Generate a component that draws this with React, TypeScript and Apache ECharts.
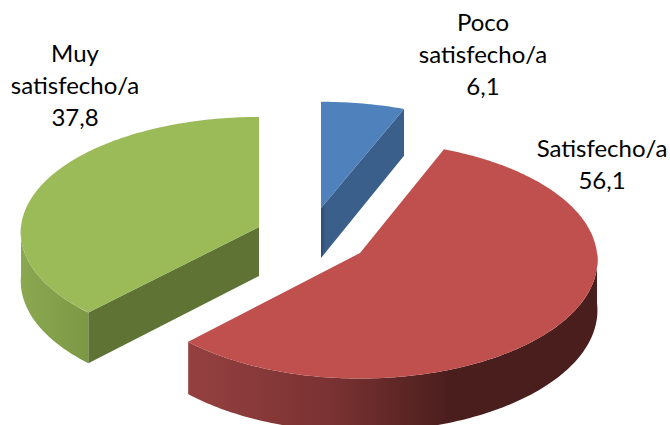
import React, { useEffect, useRef } from "react";
import * as echarts from "echarts";

const categories = ["Poco satisfecho/a", "Satisfecho/a", "Muy satisfecho/a"];
const values = [6.1, 56.1, 37.8];
const labelLines = [["Poco", "satisfecho/a", "6,1"], ["Satisfecho/a", "56,1"], ["Muy", "satisfecho/a", "37,8"]];
const labelBoxes = [
  { x: 483, y: 21 },
  { x: 602, y: 147 },
  { x: 75, y: 52 },
];
const topColors = ["#4f81bd", "#c0504d", "#9bbb59"];
const innerStops: [number, string][][] = [
  [[0, "#2f4e76"], [0.06, "#3a5f8b"], [1, "#3a5f8b"]],
  [[0, "#3a5f8b"], [1, "#3a5f8b"]],
  [[0, "#5f7334"], [1, "#5f7334"]],
];
const outerStops: [number, string][][] = [
  [[0, "#3a5f8b"], [1, "#3a5f8b"]],
  [[0, "#954040"], [0.35, "#7a3232"], [0.64, "#4a1e1d"], [1, "#4a1e1d"]],
  [[0, "#8aa850"], [1, "#7d9845"]],
];
// projection of each exploded slice: centre, radii, perspective, thickness
const geometry = [
  { cx: 321, cy: 208, R: 237, ry: 114, e: 0.073, depth: 50 },
  { cx: 360, cy: 253, R: 237, ry: 118, e: 0.06, depth: 50 },
  { cx: 259, cy: 227, R: 238, ry: 115, e: 0.045, depth: 49 },
];

const total = values.reduce((a, b) => a + b, 0);

function project(i: number, deg: number, down = false): number[] {
  const g = geometry[i];
  const t = (deg * Math.PI) / 180;
  const s = 1 / (1 + g.e * Math.cos(t));
  return [g.cx + g.R * Math.sin(t) * s, g.cy - g.ry * Math.cos(t) * s + (down ? g.depth * s : 0)];
}

function arc(i: number, a: number, b: number, down = false): number[][] {
  const pts: number[][] = [];
  const n = Math.max(2, Math.ceil(Math.abs(b - a)));
  for (let k = 0; k <= n; k++) pts.push(project(i, a + ((b - a) * k) / n, down));
  return pts;
}

const gradient = (stops: [number, string][]) =>
  new echarts.graphic.LinearGradient(0, 0, 1, 0, stops.map(([offset, color]) => ({ offset, color })));

function renderItem(params: any, api: any) {
  const i = params.dataIndex;
  const g = geometry[i];
  let before = 0;
  for (let k = 0; k < i; k++) before += values[k];
  const start = (before / total) * 360;
  const end = start + (api.value(0) / total) * 360;
  const apex = [g.cx, g.cy];
  const apexDown = [g.cx, g.cy + g.depth];
  const children: any[] = [];

  const wa = Math.max(start, 90);
  const wb = Math.min(end, 270);
  if (wb > wa) {
    const top = arc(i, wa, wb);
    const bottom = arc(i, wa, wb, true).reverse();
    children.push({
      type: "polygon",
      shape: { points: top.concat(bottom) },
      style: { fill: gradient(outerStops[i]) },
    });
  }
  const radial = (deg: number) => ({
    type: "polygon",
    shape: { points: [apex, project(i, deg), project(i, deg, true), apexDown] },
    style: { fill: gradient(innerStops[i]) },
  });
  if (Math.sin((start * Math.PI) / 180) < -0.001) children.push(radial(start));
  if (Math.sin((end * Math.PI) / 180) > 0.001) children.push(radial(end));

  children.push({
    type: "polygon",
    shape: { points: [apex].concat(arc(i, start, end)) },
    style: { fill: topColors[i] },
  });
  return { type: "group", children };
}

export default function App() {
  const ref = useRef<HTMLDivElement>(null);
  useEffect(() => {
    document.body.style.margin = "0";
    const chart = echarts.init(ref.current!, null, { renderer: "svg" });
    const texts: any[] = [];
    labelLines.forEach((lines, i) => {
      lines.forEach((line, k) => {
        texts.push({
          type: "text",
          x: labelBoxes[i].x,
          y: labelBoxes[i].y + k * 32,
          style: {
            text: line,
            font: "24px Lato",
            fill: "#000",
            align: "center",
            verticalAlign: "middle",
          },
        });
      });
    });
    chart.setOption({
      animation: false,
      backgroundColor: "#fff",
      series: [
        {
          type: "custom",
          coordinateSystem: "none",
          clip: false,
          renderItem,
          data: values.map((v, i) => ({ name: categories[i], value: [v] })),
        },
      ],
      graphic: texts,
    });
    return () => chart.dispose();
  }, []);
  return <div ref={ref} style={{ width: 670, height: 425 }} />;
}
